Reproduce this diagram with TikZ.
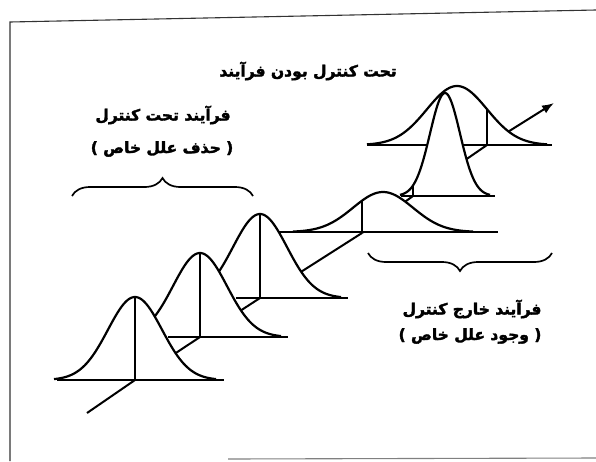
\documentclass[tikz,border=0pt]{standalone}
\usepackage{fontspec}
\usepackage{tikz}
\usetikzlibrary{arrows.meta, decorations.pathreplacing}
\newfontfamily\farsifont[Script=Arabic, BoldFeatures={FakeBold=2.2}]{DejaVu Sans}
\TeXXeTstate=1
\tikzset{
  bellline/.style = {line width=2.2pt, line join=round},
  axisline/.style = {line width=2pt},
  frameline/.style = {line width=1.1pt, black!80},
  captext/.style  = {font=\farsifont\bfseries\fontsize{15.5}{18}\selectfont, inner sep=1pt},
  bracket/.style  = {decorate, decoration={brace, amplitude=18pt}, line width=1.7pt},
  flow/.style     = {-{Latex[length=12pt, width=9pt]}, line width=2pt},
}
% one bell: peak x, peak y, base y, spread, mean x, base from, base to
\newcommand{\bellcurve}[7]{%
  \fill[white] plot[domain=#1-3*#4:#1+3*#4, samples=80, smooth]
    (\x,{#3-(#3-#2)*exp(-0.5*((\x-#1)/#4)*((\x-#1)/#4))}) -- cycle;
  \draw[axisline] (#6,#3) -- (#7,#3);
  \draw[axisline] (#5,#3) -- (#5,{#3-(#3-#2)*exp(-0.5*((#5-#1)/#4)*((#5-#1)/#4))});
  \draw[bellline] plot[domain=#1-3*#4:#1+3*#4, samples=80, smooth]
    (\x,{#3-(#3-#2)*exp(-0.5*((\x-#1)/#4)*((\x-#1)/#4))});
}
\begin{document}
\begin{tikzpicture}[x=1pt, y=-1pt]
  \useasboundingbox (0,0) rectangle (596,461);
  \draw[frameline] (10,461) -- (10,22) -- (596,10);
  \draw[frameline, black!50] (228,459) -- (596,458);

  % means on the time axis
  \coordinate (m1) at (135,380);
  \coordinate (m2) at (200,337);
  \coordinate (m3) at (260,298);
  \coordinate (m4) at (362,233);
  \coordinate (m5) at (413,196);
  \coordinate (m6) at (487,145);
  \coordinate (front) at (87,413);
  \coordinate (tip) at (554,103);

  % back to front
  \draw[flow] (m6) -- (tip);
  \bellcurve{457}{86}{145}{30}{487}{367}{552}
  \draw[axisline] (m6) -- (m5);
  \bellcurve{445}{93}{196}{15}{413}{401}{495}
  \draw[axisline] (m5) -- (m4);
  \bellcurve{383}{192}{232}{30}{362}{278}{498}
  \draw[axisline] (m4) -- (m3);
  \bellcurve{260}{214}{298}{27}{260}{236}{348}
  \draw[axisline] (m3) -- (m2);
  \bellcurve{200}{253}{337}{27}{200}{168}{288}
  \draw[axisline] (m2) -- (m1);
  \bellcurve{135}{297}{380}{27}{135}{57}{224}
  \draw[axisline] (m1) -- (front);

  % texts
  \node[captext] (title)   at (308,71)  {\beginR تحت کنترل بودن فرآیند\endR};
  \node[captext] (inhead)  at (163,115) {\beginR فرآیند تحت کنترل\endR};
  \node[captext] (insub)   at (162,149) {)\ \beginR حذف علل خاص\endR\ (};
  \node[captext] (outhead) at (472,309) {\beginR فرآیند خارج کنترل\endR};
  \node[captext] (outsub)  at (470,336) {)\ \beginR وجود علل خاص\endR\ (};

  % braces
  \coordinate (inL)  at (72,196);
  \coordinate (inR)  at (253,196);
  \coordinate (outL) at (368,253);
  \coordinate (outR) at (552,253);
  \draw[bracket] (inL) -- (inR);
  \draw[bracket] (outR) -- (outL);
\end{tikzpicture}
\end{document}
